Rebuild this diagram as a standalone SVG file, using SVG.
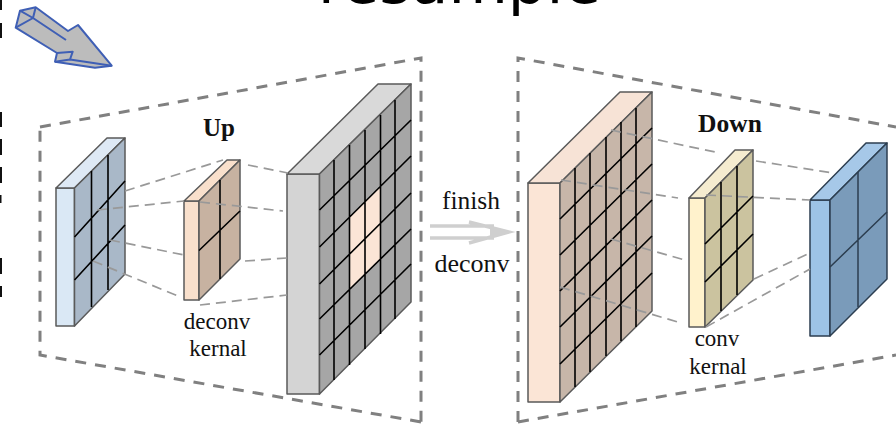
<svg xmlns="http://www.w3.org/2000/svg" width="896" height="424" viewBox="0 0 896 424">
<style>
.frame{fill:none;stroke:#808080;stroke-width:3;stroke-dasharray:11 9}
.con{fill:none;stroke:#999;stroke-width:1.7;stroke-dasharray:10 6}
.e{stroke:#5a5a5a;stroke-width:1.5;stroke-linejoin:round}
.d{stroke:#2c3e50;stroke-width:1.5;stroke-linejoin:round}
.g{fill:none;stroke:#000;stroke-width:1.6}
.s{font-family:"Liberation Serif","Times New Roman",serif;fill:#111;text-anchor:middle}
.a{fill:#bcbcbc;stroke:#3f5fb5;stroke-width:2;stroke-linejoin:round}
</style>
<rect width="896" height="424" fill="#fff"/>
<g id="title"><text x="318" y="3" font-family="DejaVu Sans, sans-serif" font-size="61" fill="#000">resample</text></g>
<g id="edge-fragments" fill="#111">
<rect x="0" y="0" width="2" height="10"/><rect x="0" y="23" width="2" height="15"/><rect x="0" y="112" width="2" height="15"/><rect x="0" y="139" width="2" height="16"/><rect x="0" y="167" width="2" height="16"/><rect x="0" y="195" width="1.5" height="8"/><rect x="0" y="258" width="2" height="16"/><rect x="0" y="286" width="2" height="11"/>
</g>
<g id="resample-arrow">
<path class="a" d="M15.7 27.7L20 10.7L35.7 7.3L68 31L78 25L111.7 65.7L95 67.7L55 61.7L57 53L15.7 27.7Z"/>
<path class="a" fill="none" style="fill:none" d="M20 10.7L33 18L15.7 27.7M35.7 7.3L33 18L66 40M57 53L72.7 51.7L70 59.5L55 61.7M70 59.5L111.7 65.7"/>
</g>
<g id="frame-up"><path class="frame" d="M40 127L421 58V424M421 422L40 355V127"/></g>
<g id="frame-down"><path class="frame" d="M518 422V58L896 127M518 422L896 355"/></g>
<g id="block-input">
<path class="e" fill="#dae8f5" d="M56 188H74.5V326H56Z"/>
<path class="e" fill="#dee9f5" d="M56 188L107 138H125L74.5 188Z"/>
<path class="e" fill="#a9b8c8" d="M74.5 188L125 138V274L74.5 326Z"/>
<path class="g" d="M91.5 171V307M108 155V290M74.5 237L125 181M74.5 280L125 225"/>
</g>
<g id="block-deconv-kernel">
<path class="e" fill="#f9e0cc" d="M184 201H199V300H184Z"/>
<path class="e" fill="#f9e0cc" d="M184 201L227 160H240L199 201Z"/>
<path class="e" fill="#c7b2a1" d="M199 201L240 160V259L199 300Z"/>
<path class="g" d="M220 180V279M199 250.5L240 211"/>
</g>
<g id="block-upsampled">
<path class="e" fill="#d4d4d4" d="M287 174H319.5V394H287Z"/>
<path class="e" fill="#d9d9d9" d="M287 174L378 84H411L319.5 174Z"/>
<path class="e" fill="#a6a6a6" d="M319.5 174L411 84V302L319.5 394Z"/>
<path fill="#fbe5d6" d="M349.5 217.5L380.5 187V259L349.5 289.5Z"/>
<path class="g" d="M334 160V380M349.5 145V365M365 130V349M380.5 115V334M395 100V319M319.5 210L411 120M319.5 247L411 156M319.5 284L411 193M319.5 319L411 229M319.5 355L411 264"/>
</g>
<g id="block-highres">
<path class="e" fill="#fbe5d6" d="M528 183H560V402H528Z"/>
<path class="e" fill="#f7e3d6" d="M528 183L620 92H652L560 183Z"/>
<path class="e" fill="#c7b6a9" d="M560 183L652 92V311L560 402Z"/>
<path class="g" d="M575 168V387M590 153V372M606 137V356M621 122V341M636 108V327M560 219L652 128M560 255L652 164M560 291L652 200M560 327L652 236M560 364L652 273"/>
</g>
<g id="block-conv-kernel">
<path class="e" fill="#fff2cc" d="M689 198H705V327H689Z"/>
<path class="e" fill="#f5ecd0" d="M689 198L735 150H753L705 198Z"/>
<path class="e" fill="#cbc39f" d="M705 198L753 150V280L705 327Z"/>
<path class="g" d="M721 182V311M737 166V295M705 244L753 196M705 282L753 234"/>
</g>
<g id="block-output">
<path class="d" fill="#9dc3e6" d="M810 200H830V336H810Z"/>
<path class="d" fill="#a6c8e8" d="M810 200L866 143H887L830 200Z"/>
<path class="d" fill="#7a9bba" d="M830 200L887 143V279L830 336Z"/>
<path class="d" fill="none" d="M858 172V307M830 267L887 212"/>
</g>
<g id="connectors">
<path class="con" d="M125 191L223 160M97 210L184 201M110 240L184 255M93 261L178 296M248 165L288 173M200 202L283 211M245 261L287 258M200 305L287 295"/>
<path class="con" d="M611 130L715 152M756 161L833 173M561 180L678 198M706 195L810 200M611 239L685 260M560 287L681 323M754 279L810 253M706 327L810 269"/>
<g id="finish-arrow" fill="none" stroke="#cfcfcf" stroke-width="3.4">
<path d="M430 226H494M430 238H494M469 222L509 232L469 243"/>
<path d="M490 226L505 232L490 238" fill="#cfcfcf" stroke="none"/>
</g>
</g>
<g id="labels">
<text class="s" x="219" y="136" font-size="25" font-weight="bold">Up</text>
<text class="s" x="217" y="329" font-size="23">deconv</text>
<text class="s" x="218" y="356" font-size="23">kernal</text>
<text class="s" x="471" y="209" font-size="25.5">finish</text>
<text class="s" x="472" y="272" font-size="26">deconv</text>
<text class="s" x="730" y="131.500" font-size="25.500" font-weight="bold">Down</text>
<text class="s" x="717" y="346" font-size="23">conv</text>
<text class="s" x="718" y="374" font-size="23">kernal</text>
</g>
</svg>
